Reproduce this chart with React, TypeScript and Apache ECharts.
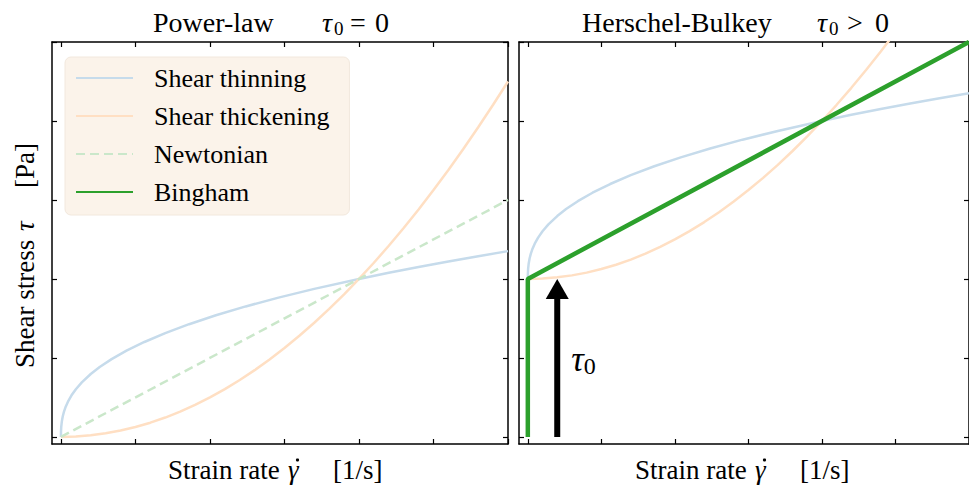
import React, { useEffect, useRef } from "react";
import * as echarts from "echarts";

// ---- data ----
const xTicks = [0, 0.25, 0.5, 0.75, 1, 1.25, 1.5];
const yTicks = [0, 0.5, 1, 1.5, 2, 2.5];

// Power-law panel
const thinX = [0, 0.0002, 0.001, 0.003, 0.006, 0.01, 0.016, 0.025, 0.035, 0.05, 0.07, 0.1, 0.13, 0.17, 0.22, 0.28, 0.35, 0.43, 0.52, 0.62, 0.73, 0.85, 1.0, 1.1, 1.2, 1.3, 1.4, 1.5];
const thinY = [0, 0.0332, 0.0631, 0.0979, 0.1292, 0.1585, 0.1913, 0.2287, 0.2616, 0.3017, 0.3451, 0.3981, 0.4422, 0.4922, 0.5457, 0.6009, 0.6571, 0.7135, 0.7698, 0.826, 0.8817, 0.9371, 1.0, 1.0389, 1.0757, 1.1107, 1.1441, 1.1761];
const thickX = [0, 0.05, 0.1, 0.15, 0.2, 0.25, 0.3, 0.35, 0.4, 0.45, 0.5, 0.55, 0.6, 0.65, 0.7, 0.75, 0.8, 0.85, 0.9, 0.95, 1.0, 1.05, 1.1, 1.15, 1.2, 1.25, 1.3, 1.35, 1.4, 1.45, 1.5];
const thickY = [0, 0.0025, 0.01, 0.0225, 0.04, 0.0625, 0.09, 0.1225, 0.16, 0.2025, 0.25, 0.3025, 0.36, 0.4225, 0.49, 0.5625, 0.64, 0.7225, 0.81, 0.9025, 1.0, 1.1025, 1.21, 1.3225, 1.44, 1.5625, 1.69, 1.8225, 1.96, 2.1025, 2.25];
const newtX = [0, 1.5];
const newtY = [0, 1.5];

// Herschel-Bulkley panel
const hbThinY = [1, 1.0332, 1.0631, 1.0979, 1.1292, 1.1585, 1.1913, 1.2287, 1.2616, 1.3017, 1.3451, 1.3981, 1.4422, 1.4922, 1.5457, 1.6009, 1.6571, 1.7135, 1.7698, 1.826, 1.8817, 1.9371, 2.0, 2.0389, 2.0757, 2.1107, 2.1441, 2.1761];
const hbThickX = [0, 0.05, 0.1, 0.15, 0.2, 0.25, 0.3, 0.35, 0.4, 0.45, 0.5, 0.55, 0.6, 0.65, 0.7, 0.75, 0.8, 0.85, 0.9, 0.95, 1.0, 1.05, 1.1, 1.15, 1.2, 1.25, 1.3];
const hbThickY = [1, 1.0025, 1.01, 1.0225, 1.04, 1.0625, 1.09, 1.1225, 1.16, 1.2025, 1.25, 1.3025, 1.36, 1.4225, 1.49, 1.5625, 1.64, 1.7225, 1.81, 1.9025, 2.0, 2.1025, 2.21, 2.3225, 2.44, 2.5625, 2.69];
const binghamX = [0, 0, 1.5];
const binghamY = [0, 1, 2.5];

// yield-stress arrow: x, from, to ; and label position
const arrowData = [0.1, 0, 1];
const tauLabelPos = [0.148, 0.49];

const names = ["Shear thinning", "Shear thickening", "Newtonian", "Bingham"];

const FONT = "Liberation Serif";
const BLUE = "#c6dbeb";
const ORANGE = "#ffdfc3";
const LGREEN = "#cae7ca";
const GREEN = "#2ca02c";

const zip = (xs: number[], ys: number[]) => xs.map((x, i) => [x, ys[i]]);

const txt = (x: number, text: string, size: number, italic = false) => ({
  type: "text",
  x,
  y: 0,
  style: {
    text,
    fontFamily: FONT,
    fontSize: size,
    fontStyle: italic ? "italic" : "normal",
    fill: "#000",
    align: "left",
    verticalAlign: "middle",
  },
});

// title "name  τ0 <op> 0"
const titleGroup = (x: number, y: number, name: string, mathX: number, op: string, opDx: number, zeroDx: number) => ({
  type: "group",
  x,
  y,
  children: [
    txt(0, name, 28),
    txt(mathX, "τ", 28, true),
    { ...txt(mathX + 12, "0", 19), y: 6 },
    txt(mathX + opDx, op, 28),
    txt(mathX + zeroDx, "0", 28),
  ],
});

// "Strain rate γ̇   [1/s]"
const xLabelGroup = (x: number, y: number) => ({
  type: "group",
  x,
  y,
  children: [
    txt(0, "Strain rate", 27),
    txt(120, "γ", 27, true),
    { type: "circle", shape: { cx: 129.5, cy: -10, r: 1.6 }, style: { fill: "#000" } },
    txt(165, "[1/s]", 27),
  ],
});

export default function App() {
  const ref = useRef<HTMLDivElement>(null);
  useEffect(() => {
    if (!ref.current) return;
    const chart = echarts.init(ref.current, null, { renderer: "svg" });

    const grids = [
      { left: 52, top: 42, width: 456, height: 402 },
      { left: 519, top: 42, width: 456, height: 402 },
    ];
    const axisLine = { show: true, onZero: false, lineStyle: { color: "#000", width: 1.5 } };
    const tick = (vals: number[]) => ({
      show: true,
      inside: true,
      length: 5,
      customValues: vals,
      lineStyle: { color: "#000", width: 1.2 },
    });
    const xAxes: any[] = [];
    const yAxes: any[] = [];
    [0, 1].forEach((g) => {
      ["bottom", "top"].forEach((pos) => {
        xAxes.push({
          type: "value",
          gridIndex: g,
          position: pos,
          min: -0.03,
          max: 1.5,
          axisLine,
          axisTick: tick(xTicks),
          axisLabel: { show: false },
          splitLine: { show: false },
        });
      });
      ["left", "right"].forEach((pos) => {
        yAxes.push({
          type: "value",
          gridIndex: g,
          position: pos,
          min: -0.045,
          max: 2.5,
          axisLine,
          axisTick: tick(yTicks),
          axisLabel: { show: false },
          splitLine: { show: false },
        });
      });
    });

    const lineS = (name: string, data: number[][], color: string, width: number, xi: number, yi: number, extra: any = {}) => ({
      type: "line",
      name,
      data,
      xAxisIndex: xi,
      yAxisIndex: yi,
      showSymbol: false,
      symbol: "none",
      lineStyle: { color, width, ...(extra.lineStyle || {}) },
      itemStyle: { color },
      smooth: false,
      z: extra.z ?? 2,
      silent: true,
    });

    const option: any = {
      animation: false,
      grid: grids,
      xAxis: xAxes,
      yAxis: yAxes,
      legend: {
        data: names,
        orient: "vertical",
        left: 65,
        top: 57,
        padding: [8, 20, 10, 10],
        itemWidth: 57,
        itemHeight: 14,
        itemGap: 12,
        backgroundColor: "#fbf3ea",
        borderColor: "#f2e8dd",
        borderWidth: 1,
        borderRadius: 6,
        selectedMode: false,
        itemStyle: { opacity: 0, color: "transparent", borderWidth: 0 },
        textStyle: { fontFamily: FONT, fontSize: 26, color: "#000", lineHeight: 26, padding: [0, 0, 0, 16] },
      },
      graphic: [
        titleGroup(153, 22, "Power-law", 169, "=", 28, 53),
        titleGroup(582, 22, "Herschel-Bulkey", 235, ">", 30, 58),
        xLabelGroup(168, 470),
        xLabelGroup(635, 470),
        {
          type: "group",
          x: 25,
          y: 368,
          rotation: Math.PI / 2,
          children: [
            txt(0, "Shear stress", 27),
            txt(137, "τ", 27, true),
            txt(180, "[Pa]", 27),
          ],
        },
      ],
      series: [
        lineS(names[0], zip(thinX, thinY), BLUE, 2.5, 0, 0),
        lineS(names[1], zip(thickX, thickY), ORANGE, 2.5, 0, 0),
        lineS(names[2], zip(newtX, newtY), LGREEN, 2.5, 0, 0, { lineStyle: { type: [9, 5] } }),
        lineS(names[0], zip(thinX, hbThinY), BLUE, 2.5, 2, 2),
        lineS(names[1], zip(hbThickX, hbThickY), ORANGE, 2.5, 2, 2),
        lineS(names[3], zip(binghamX, binghamY), GREEN, 4.5, 2, 2, { z: 4 }),
        {
          type: "custom",
          xAxisIndex: 2,
          yAxisIndex: 2,
          silent: true,
          z: 6,
          clip: false,
          data: [[arrowData[0], arrowData[1], arrowData[2], tauLabelPos[0], tauLabelPos[1]]],
          renderItem: (params: any, api: any) => {
            const b = api.coord([api.value(0), api.value(1)]);
            const t = api.coord([api.value(0), api.value(2)]);
            const lp = api.coord([api.value(3), api.value(4)]);
            const headLen = 20;
            const headW = 23;
            const shaftW = 6;
            return {
              type: "group",
              children: [
                {
                  type: "rect",
                  shape: { x: b[0] - shaftW / 2, y: t[1] + headLen - 1, width: shaftW, height: b[1] - t[1] - headLen + 1 },
                  style: { fill: "#000" },
                },
                {
                  type: "polygon",
                  shape: { points: [[t[0], t[1]], [t[0] - headW / 2, t[1] + headLen], [t[0] + headW / 2, t[1] + headLen]] },
                  style: { fill: "#000" },
                },
                {
                  type: "text",
                  x: lp[0],
                  y: lp[1],
                  style: {
                    text: "{i|τ}{s|0}",
                    rich: {
                      i: { fontFamily: FONT, fontSize: 35, fontStyle: "italic", color: "#000", lineHeight: 38 },
                      s: { fontFamily: FONT, fontSize: 24, color: "#000", lineHeight: 24, verticalAlign: "bottom" },
                    },
                    align: "left",
                    verticalAlign: "middle",
                  },
                },
              ],
            };
          },
        },
      ],
    };
    chart.setOption(option);
    return () => chart.dispose();
  }, []);
  return <div ref={ref} style={{ position: "fixed", left: 0, top: 0, width: 969, height: 488, background: "#fff" }} />;
}
